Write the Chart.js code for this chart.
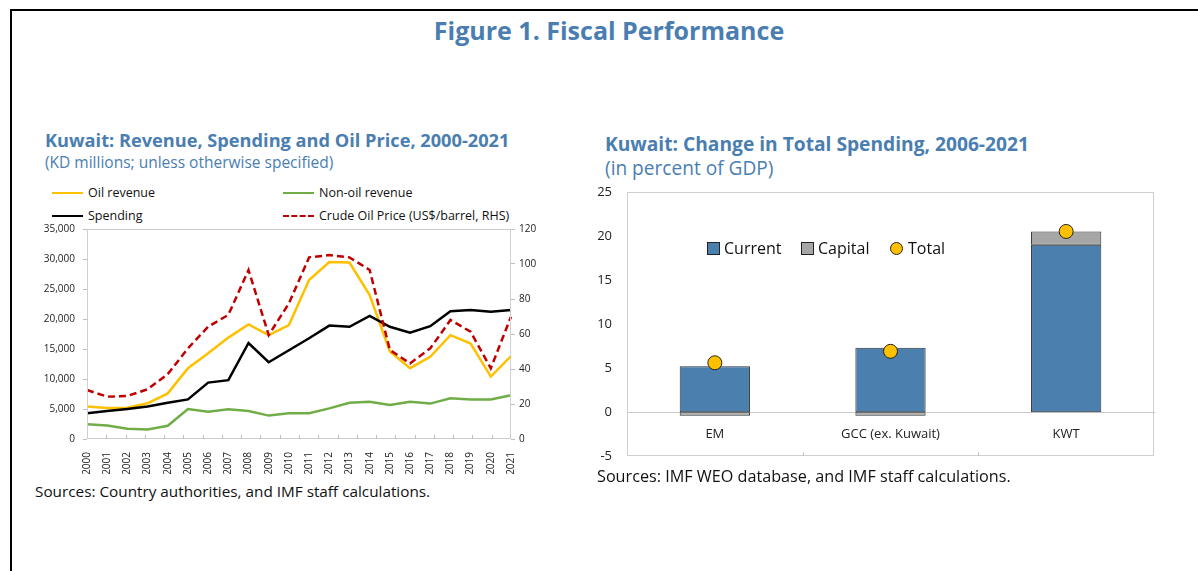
<!DOCTYPE html>
<html>
<head>
<meta charset="utf-8">
<script src="https://cdn.jsdelivr.net/npm/chart.js@4.4.0/dist/chart.umd.min.js"></script>
<style>
  body { margin: 0; background: #fff; font-family: 'Open Sans', sans-serif; }
  #page { position: relative; width: 1198px; height: 571px; overflow: hidden; }
  .frame { position: absolute; left: 10px; top: 9px; right: -5px; bottom: -5px; border-top: 2px solid #000; border-left: 2px solid #000; }
  .txt { position: absolute; white-space: nowrap; color: #4a7eb1; }
  .src { position: absolute; white-space: nowrap; color: #111; }
  .box { position: absolute; }
  .leg { position: absolute; font-size: 12.5px; color: #111; }
  .leg .item { position: absolute; display: flex; align-items: center; white-space: nowrap; }
  .leg .ln { display: inline-block; width: 31px; height: 0; margin-right: 5px; }
  .leg2 { position: absolute; font-size: 16px; color: #111; }
  .leg2 .item { position: absolute; display: flex; align-items: center; white-space: nowrap; }
  .leg2 .sq { display: inline-block; width: 11px; height: 11px; border: 1px solid #222; margin-right: 4px; }
  .leg2 .dot { display: inline-block; width: 11px; height: 11px; border: 1px solid #222; border-radius: 50%; margin-right: 5px; }
</style>
</head>
<body>
<div id="page">
  <div class="frame"></div>
  <div class="txt" style="left:0;width:1218px;text-align:center;top:13px;font-size:25px;font-weight:700;">Figure 1. Fiscal Performance</div>

  <div class="txt" style="left:45px;top:128px;font-size:18.2px;font-weight:700;">Kuwait: Revenue, Spending and Oil Price, 2000-2021</div>
  <div class="txt" style="left:45px;top:151px;font-size:15.5px;">(KD millions; unless otherwise specified)</div>
  <div class="leg" id="leg1" style="left:52px;top:184px;width:500px;height:44px;"></div>
  <div class="box" style="left:30px;top:215px;width:520px;height:259px;"><canvas id="c1"></canvas></div>
  <div class="src" style="left:35px;top:481px;font-size:15.3px;">Sources: Country authorities, and IMF staff calculations.</div>

  <div class="txt" style="left:605px;top:130px;font-size:19.2px;font-weight:700;">Kuwait: Change in Total Spending, 2006-2021</div>
  <div class="txt" style="left:605px;top:155px;font-size:19.1px;">(in percent of GDP)</div>
  <div class="box" style="left:580px;top:177px;width:600px;height:294px;"><canvas id="c2"></canvas></div>
  <div class="leg2" id="leg2" style="left:707px;top:237px;width:300px;height:24px;"></div>
  <div class="src" style="left:597px;top:465px;font-size:16.2px;">Sources: IMF WEO database, and IMF staff calculations.</div>
</div>

<script>
// ── left panel data ─────────────────────────────
var years = ['2000','2001','2002','2003','2004','2005','2006','2007','2008','2009','2010',
             '2011','2012','2013','2014','2015','2016','2017','2018','2019','2020','2021'];
var oilRevenue    = [5400,5150,5200,5950,7600,11800,14300,16900,19100,17300,19000,
                     26500,29500,29400,24000,14600,11800,13700,17300,15900,10400,13800];
var nonOilRevenue = [2450,2250,1700,1600,2200,5000,4550,4950,4650,3900,4300,
                     4300,5100,6050,6200,5650,6200,5900,6800,6600,6600,7300];
var spending      = [4300,4650,5000,5400,6050,6600,9400,9800,16000,12800,14800,
                     16800,18900,18700,20500,18700,17700,18800,21300,21500,21200,21500];
var oilPrice      = [28.0,24.2,24.6,28.4,37.1,51.8,64.2,70.9,96.6,59.4,77.5,
                     103.8,105.1,103.8,96.6,50.9,43.2,51.8,68.0,61.3,40.4,69.9];

// ── right panel data ────────────────────────────
var groups       = ['EM', 'GCC (ex. Kuwait)', 'KWT'];
var currentSpend = [5.2, 7.3, 19.0];
var capitalSpend = [-0.4, -0.4, 1.5];
var totalSpend   = [5.6, 6.9, 20.5];

Chart.defaults.font.family = "'Open Sans', sans-serif";
Chart.defaults.color = '#222';
Chart.defaults.animation = false;

// plot frame + small tick marks pointing into the plot on the category axis
var frameTicks = {
  id: 'frameTicks',
  afterDraw: function (chart) {
    var a = chart.chartArea, c = chart.ctx, x = chart.scales.x;
    c.save();
    c.strokeStyle = '#cfcfcf';
    c.lineWidth = 1;
    c.strokeRect(Math.round(a.left) + 0.5, Math.round(a.top) + 0.5,
                 Math.round(a.right - a.left) - 1, Math.round(a.bottom - a.top) - 1);
    var n = chart.data.labels.length, step = (x.right - x.left) / n;
    c.strokeStyle = '#bfbfbf';
    c.beginPath();
    for (var i = 1; i < n; i++) {
      var px = Math.round(x.left + i * step) + 0.5;
      c.moveTo(px, x.top);
      c.lineTo(px, x.top - 4);
    }
    c.stroke();
    c.restore();
  }
};

function fixWidth(w) { return function (s) { s.width = w; }; }

var chart1 = new Chart(document.getElementById('c1'), {
  type: 'line',
  data: {
    labels: years,
    datasets: [
      { label: 'Oil revenue', data: oilRevenue, borderColor: '#ffc000', order: 2 },
      { label: 'Non-oil revenue', data: nonOilRevenue, borderColor: '#70ad47', order: 3 },
      { label: 'Spending', data: spending, borderColor: '#000000', order: 1 },
      { label: 'Crude Oil Price (US$/barrel, RHS)', data: oilPrice, borderColor: '#c00000',
        borderDash: [7, 4], yAxisID: 'y1', order: 0 }
    ]
  },
  options: {
    responsive: true,
    maintainAspectRatio: false,
    layout: { padding: { top: 7 } },
    elements: { point: { radius: 0 }, line: { borderWidth: 2.5, tension: 0 } },
    plugins: { legend: { display: false }, tooltip: { enabled: false } },
    scales: {
      x: {
        grid: { display: false },
        border: { display: false },
        ticks: { autoSkip: false, minRotation: 90, maxRotation: 90, font: { size: 10 }, color: '#222', padding: 5 },
        afterFit: function (s) { s.height = 35; }
      },
      y: {
        min: 0, max: 35000,
        grid: { drawOnChartArea: false, tickLength: 4, color: '#bfbfbf' },
        border: { display: false },
        ticks: { stepSize: 5000, font: { size: 10 }, color: '#222', padding: 8,
                 callback: function (v) { return v.toLocaleString('en-US'); } },
        afterFit: fixWidth(57)
      },
      y1: {
        position: 'right',
        min: 0, max: 120,
        grid: { drawOnChartArea: false, tickLength: 4, color: '#bfbfbf' },
        border: { display: false },
        ticks: { stepSize: 20, font: { size: 10 }, color: '#222', padding: 4 },
        afterFit: fixWidth(39)
      }
    }
  },
  plugins: [frameTicks]
});

var chart2 = new Chart(document.getElementById('c2'), {
  type: 'bar',
  data: {
    labels: groups,
    datasets: [
      { label: 'Current', data: currentSpend, backgroundColor: '#4a7fae', order: 1 },
      { label: 'Capital', data: capitalSpend, backgroundColor: '#a6a6a6', order: 1 },
      { label: 'Total', type: 'line', data: totalSpend, stack: 'total', showLine: false, order: 0,
        pointRadius: 7, pointBackgroundColor: '#ffc000', pointBorderColor: '#222', pointBorderWidth: 1 }
    ]
  },
  options: {
    responsive: true,
    maintainAspectRatio: false,
    layout: { padding: { top: 0, right: 26, bottom: 0 } },
    datasets: { bar: { barPercentage: 0.4, categoryPercentage: 1.0, borderColor: '#333', borderWidth: 1, borderSkipped: false } },
    plugins: { legend: { display: false }, tooltip: { enabled: false } },
    scales: {
      x: {
        stacked: true,
        position: { y: 0 },
        grid: { display: false },
        border: { color: '#c8c8c8' },
        ticks: { font: { size: 13 }, color: '#222', padding: 6 }
      },
      y: {
        stacked: true,
        min: -5, max: 25,
        grid: { display: false },
        border: { display: false },
        ticks: { stepSize: 5, font: { size: 13 }, color: '#222', padding: 7 },
        afterFit: fixWidth(47)
      }
    }
  },
  plugins: [frameTicks]
});

// html legends built from the chart datasets
function lineLegend(chart, el, colX, rowY) {
  chart.data.datasets.forEach(function (d, i) {
    var it = document.createElement('div');
    it.className = 'item';
    it.style.left = colX[i % 2] + 'px';
    it.style.top = rowY[Math.floor(i / 2)] + 'px';
    var style = d.borderDash ? 'dashed' : 'solid';
    it.innerHTML = '<span class="ln" style="border-top:2.5px ' + style + ' ' + d.borderColor + '"></span>' + d.label;
    el.appendChild(it);
  });
}
lineLegend(chart1, document.getElementById('leg1'), [0, 231], [0, 23]);

function barLegend(chart, el, xs) {
  chart.data.datasets.forEach(function (d, i) {
    var it = document.createElement('div');
    it.className = 'item';
    it.style.left = xs[i] + 'px';
    it.style.top = '0px';
    var mark = d.type === 'line'
      ? '<span class="dot" style="background:' + d.pointBackgroundColor + '"></span>'
      : '<span class="sq" style="background:' + d.backgroundColor + '"></span>';
    it.innerHTML = mark + d.label;
    el.appendChild(it);
  });
}
barLegend(chart2, document.getElementById('leg2'), [0, 94, 183]);
</script>
</body>
</html>
